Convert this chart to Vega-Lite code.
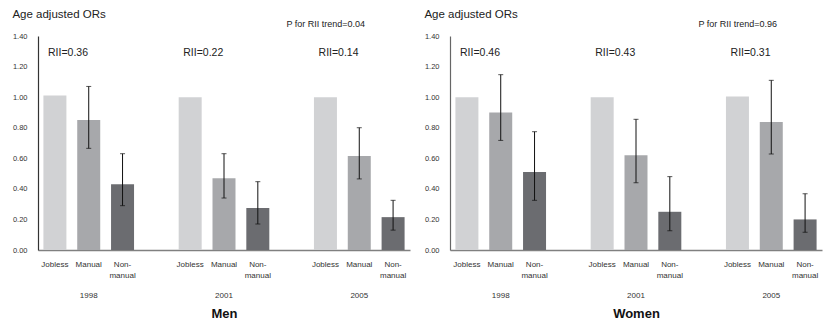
{
  "$schema": "https://vega.github.io/schema/vega-lite/v6.json",
  "padding": {"left": 12, "top": 8, "right": 2, "bottom": 0},
  "config": {
    "font": "Liberation Sans",
    "view": {"stroke": null},
    "concat": {"spacing": 14},
    "axisY": {"ticks": false, "grid": false, "domainColor": "#333333", "domainWidth": 1.2, "labelFontSize": 7.5, "labelColor": "#333333", "labelPadding": 11, "format": ".2f", "values": [0, 0.2, 0.4, 0.6, 0.8, 1.0, 1.2, 1.4]},
    "axisX": {"ticks": false, "grid": false, "labelAngle": 0, "labelFontSize": 8, "labelColor": "#333333", "labelPadding": 41, "domainColor": "#808080", "domainWidth": 1.5, "titleFontSize": 13, "titleFontWeight": "bold", "titleColor": "#111111", "titlePadding": 8}
  },
  "datasets": {
    "men": [
      {"year": "1998", "cls": "Jobless", "lab": "Jobless", "or": 1.01, "lo": null, "hi": null},
      {"year": "1998", "cls": "Manual", "lab": "Manual", "or": 0.85, "lo": 0.665, "hi": 1.07},
      {"year": "1998", "cls": "Non-manual", "lab": "Non-\nmanual", "or": 0.43, "lo": 0.29, "hi": 0.63},
      {"year": "2001", "cls": "Jobless", "lab": "Jobless", "or": 1.0, "lo": null, "hi": null},
      {"year": "2001", "cls": "Manual", "lab": "Manual", "or": 0.47, "lo": 0.34, "hi": 0.63},
      {"year": "2001", "cls": "Non-manual", "lab": "Non-\nmanual", "or": 0.275, "lo": 0.17, "hi": 0.447},
      {"year": "2005", "cls": "Jobless", "lab": "Jobless", "or": 1.0, "lo": null, "hi": null},
      {"year": "2005", "cls": "Manual", "lab": "Manual", "or": 0.615, "lo": 0.465, "hi": 0.8},
      {"year": "2005", "cls": "Non-manual", "lab": "Non-\nmanual", "or": 0.215, "lo": 0.13, "hi": 0.325}
    ],
    "women": [
      {"year": "1998", "cls": "Jobless", "lab": "Jobless", "or": 1.0, "lo": null, "hi": null},
      {"year": "1998", "cls": "Manual", "lab": "Manual", "or": 0.9, "lo": 0.717, "hi": 1.147},
      {"year": "1998", "cls": "Non-manual", "lab": "Non-\nmanual", "or": 0.51, "lo": 0.325, "hi": 0.774},
      {"year": "2001", "cls": "Jobless", "lab": "Jobless", "or": 1.0, "lo": null, "hi": null},
      {"year": "2001", "cls": "Manual", "lab": "Manual", "or": 0.62, "lo": 0.44, "hi": 0.855},
      {"year": "2001", "cls": "Non-manual", "lab": "Non-\nmanual", "or": 0.25, "lo": 0.126, "hi": 0.48},
      {"year": "2005", "cls": "Jobless", "lab": "Jobless", "or": 1.005, "lo": null, "hi": null},
      {"year": "2005", "cls": "Manual", "lab": "Manual", "or": 0.837, "lo": 0.628, "hi": 1.11},
      {"year": "2005", "cls": "Non-manual", "lab": "Non-\nmanual", "or": 0.2, "lo": 0.116, "hi": 0.368}
    ],
    "menrii": [
      {"year": "1998", "rii": "RII=0.36"},
      {"year": "2001", "rii": "RII=0.22"},
      {"year": "2005", "rii": "RII=0.14"}
    ],
    "womenrii": [
      {"year": "1998", "rii": "RII=0.46"},
      {"year": "2001", "rii": "RII=0.43"},
      {"year": "2005", "rii": "RII=0.31"}
    ],
    "menp": [{"t": "P for RII trend=0.04"}],
    "womenp": [{"t": "P for RII trend=0.96"}]
  },
  "hconcat": [
    {
      "width": 372,
      "height": 214,
      "title": {"text": "Age adjusted ORs", "anchor": "start", "frame": "bounds", "fontSize": 11.5, "fontWeight": "normal", "color": "#222222", "offset": 0},
      "data": {"name": "men"},
      "layer": [
        {
          "mark": {"type": "bar"},
          "encoding": {
            "x": {"field": "year", "type": "nominal", "scale": {"paddingInner": 0.25, "paddingOuter": 0}, "title": "Men"},
            "xOffset": {"field": "cls", "type": "nominal", "sort": ["Jobless", "Manual", "Non-manual"], "scale": {"paddingInner": 0.32, "paddingOuter": 0.16}},
            "y": {"field": "or", "type": "quantitative", "scale": {"domain": [0, 1.4], "nice": false}, "title": null},
            "color": {"field": "cls", "type": "nominal", "scale": {"domain": ["Jobless", "Manual", "Non-manual"], "range": ["#d1d2d4", "#a7a8ab", "#6b6c70"]}, "legend": null}
          }
        },
        {
          "transform": [{"filter": "datum.hi != null"}],
          "mark": {"type": "rule", "color": "#111111", "strokeWidth": 1},
          "encoding": {
            "x": {"field": "year", "type": "nominal"},
            "xOffset": {"field": "cls", "type": "nominal", "sort": ["Jobless", "Manual", "Non-manual"]},
            "y": {"field": "lo", "type": "quantitative"},
            "y2": {"field": "hi"}
          }
        },
        {
          "transform": [{"filter": "datum.hi != null"}],
          "mark": {"type": "tick", "color": "#111111", "thickness": 1, "size": 5},
          "encoding": {
            "x": {"field": "year", "type": "nominal"},
            "xOffset": {"field": "cls", "type": "nominal", "sort": ["Jobless", "Manual", "Non-manual"]},
            "y": {"field": "hi", "type": "quantitative"}
          }
        },
        {
          "transform": [{"filter": "datum.hi != null"}],
          "mark": {"type": "tick", "color": "#111111", "thickness": 1, "size": 5},
          "encoding": {
            "x": {"field": "year", "type": "nominal"},
            "xOffset": {"field": "cls", "type": "nominal", "sort": ["Jobless", "Manual", "Non-manual"]},
            "y": {"field": "lo", "type": "quantitative"}
          }
        },
        {
          "mark": {"type": "text", "baseline": "top", "dy": 11, "fontSize": 8, "color": "#333333", "lineBreak": "\n", "lineHeight": 11},
          "encoding": {
            "x": {"field": "year", "type": "nominal"},
            "xOffset": {"field": "cls", "type": "nominal", "sort": ["Jobless", "Manual", "Non-manual"]},
            "y": {"datum": 0},
            "text": {"field": "lab"}
          }
        },
        {
          "data": {"name": "menrii"},
          "mark": {"type": "text", "align": "left", "baseline": "middle", "dx": 10, "fontSize": 10.5, "color": "#222222"},
          "encoding": {
            "x": {"field": "year", "type": "nominal", "bandPosition": 0},
            "y": {"datum": 1.29},
            "text": {"field": "rii"}
          }
        },
        {
          "data": {"name": "menp"},
          "mark": {"type": "text", "align": "center", "baseline": "middle", "fontSize": 9, "color": "#222222"},
          "encoding": {
            "x": {"datum": "2005", "bandPosition": 0.17},
            "y": {"datum": 1.478},
            "text": {"field": "t"}
          }
        }
      ]
    },
    {
      "width": 372,
      "height": 214,
      "title": {"text": "Age adjusted ORs", "anchor": "start", "frame": "bounds", "fontSize": 11.5, "fontWeight": "normal", "color": "#222222", "offset": 0},
      "data": {"name": "women"},
      "layer": [
        {
          "mark": {"type": "bar"},
          "encoding": {
            "x": {"field": "year", "type": "nominal", "scale": {"paddingInner": 0.25, "paddingOuter": 0}, "title": "Women"},
            "xOffset": {"field": "cls", "type": "nominal", "sort": ["Jobless", "Manual", "Non-manual"], "scale": {"paddingInner": 0.32, "paddingOuter": 0.16}},
            "y": {"field": "or", "type": "quantitative", "scale": {"domain": [0, 1.4], "nice": false}, "title": null, "axis": {"domainColor": "#666666"}},
            "color": {"field": "cls", "type": "nominal", "scale": {"domain": ["Jobless", "Manual", "Non-manual"], "range": ["#d1d2d4", "#a7a8ab", "#6b6c70"]}, "legend": null}
          }
        },
        {
          "transform": [{"filter": "datum.hi != null"}],
          "mark": {"type": "rule", "color": "#111111", "strokeWidth": 1},
          "encoding": {
            "x": {"field": "year", "type": "nominal"},
            "xOffset": {"field": "cls", "type": "nominal", "sort": ["Jobless", "Manual", "Non-manual"]},
            "y": {"field": "lo", "type": "quantitative"},
            "y2": {"field": "hi"}
          }
        },
        {
          "transform": [{"filter": "datum.hi != null"}],
          "mark": {"type": "tick", "color": "#111111", "thickness": 1, "size": 5},
          "encoding": {
            "x": {"field": "year", "type": "nominal"},
            "xOffset": {"field": "cls", "type": "nominal", "sort": ["Jobless", "Manual", "Non-manual"]},
            "y": {"field": "hi", "type": "quantitative"}
          }
        },
        {
          "transform": [{"filter": "datum.hi != null"}],
          "mark": {"type": "tick", "color": "#111111", "thickness": 1, "size": 5},
          "encoding": {
            "x": {"field": "year", "type": "nominal"},
            "xOffset": {"field": "cls", "type": "nominal", "sort": ["Jobless", "Manual", "Non-manual"]},
            "y": {"field": "lo", "type": "quantitative"}
          }
        },
        {
          "mark": {"type": "text", "baseline": "top", "dy": 11, "fontSize": 8, "color": "#333333", "lineBreak": "\n", "lineHeight": 11},
          "encoding": {
            "x": {"field": "year", "type": "nominal"},
            "xOffset": {"field": "cls", "type": "nominal", "sort": ["Jobless", "Manual", "Non-manual"]},
            "y": {"datum": 0},
            "text": {"field": "lab"}
          }
        },
        {
          "data": {"name": "womenrii"},
          "mark": {"type": "text", "align": "left", "baseline": "middle", "dx": 10, "fontSize": 10.5, "color": "#222222"},
          "encoding": {
            "x": {"field": "year", "type": "nominal", "bandPosition": 0},
            "y": {"datum": 1.29},
            "text": {"field": "rii"}
          }
        },
        {
          "data": {"name": "womenp"},
          "mark": {"type": "text", "align": "center", "baseline": "middle", "fontSize": 9, "color": "#222222"},
          "encoding": {
            "x": {"datum": "2005", "bandPosition": 0.17},
            "y": {"datum": 1.478},
            "text": {"field": "t"}
          }
        }
      ]
    }
  ]
}
